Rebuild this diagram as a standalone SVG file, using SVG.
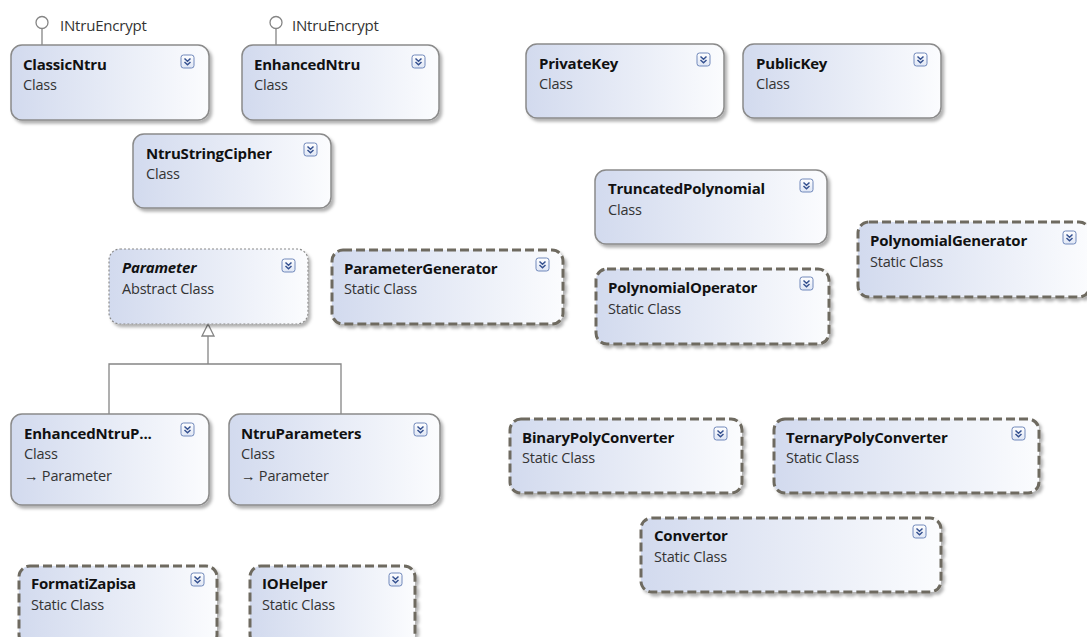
<svg xmlns="http://www.w3.org/2000/svg" width="1087" height="637" viewBox="0 0 1087 637">
<style>
.box{fill:url(#bg);stroke:#8a8a8a;stroke-width:1.5;filter:url(#sh)}
.st{fill:url(#bg);stroke:#6e6a60;stroke-width:3;stroke-dasharray:9 4;filter:url(#sh)}
.ab{fill:url(#bg);stroke:#8a8a8a;stroke-width:1.2;stroke-dasharray:2 2;filter:url(#sh)}
.t{font-family:"Open Sans","Liberation Sans",sans-serif;font-size:15px;font-weight:bold;fill:#111;letter-spacing:-0.2px}
.ti{font-style:italic}
.s{font-family:"Open Sans","Liberation Sans",sans-serif;font-size:14.5px;fill:#333;letter-spacing:-0.2px}
.ifc{font-family:"Open Sans","Liberation Sans",sans-serif;font-size:15px;fill:#333;letter-spacing:-0.2px}
.ic{fill:url(#ig);stroke:#7088bb;stroke-width:1}
.chev{fill:none;stroke:#34508f;stroke-width:1.5}
.ln{fill:none;stroke:#858585;stroke-width:1.3}
</style>
<defs>
<linearGradient id="bg" x1="0" y1="0" x2="1" y2="0">
<stop offset="0" stop-color="#d2daee"/>
<stop offset="1" stop-color="#fbfcfe"/>
</linearGradient>
<linearGradient id="ig" x1="0" y1="0" x2="0" y2="1">
<stop offset="0" stop-color="#ffffff"/>
<stop offset="1" stop-color="#dfe6f5"/>
</linearGradient>
<filter id="sh" x="-5%" y="-5%" width="115%" height="125%">
<feDropShadow dx="2.5" dy="3" stdDeviation="1.5" flood-color="#000" flood-opacity="0.3"/>
</filter>
<g id="exp">
<rect class="ic" x="0" y="0" width="13" height="13" rx="2.5"/>
<path class="chev" d="M3.5,3.5 L6.5,6.2 L9.5,3.5 M3.5,7 L6.5,9.7 L9.5,7"/>
</g>
</defs>
<rect width="1087" height="637" fill="#ffffff"/>

<g id="connectors">
<path class="ln" d="M42,29 V45"/>
<circle cx="42" cy="22.5" r="6" fill="#fff" stroke="#858585" stroke-width="1.3"/>
<text class="ifc" x="60" y="31">INtruEncrypt</text>
<path class="ln" d="M276,29 V45"/>
<circle cx="276" cy="22.5" r="6" fill="#fff" stroke="#858585" stroke-width="1.3"/>
<text class="ifc" x="292" y="31">INtruEncrypt</text>
<path class="ln" d="M208,336 V364 M109,414 V364 H341 V414"/>
<path d="M208,324 L202,336 L214,336 Z" fill="#fff" stroke="#858585" stroke-width="1.3"/>
</g>

<g id="ClassicNtru">
<rect class="box" x="11" y="45" width="198" height="75" rx="11"/>
<text class="t" x="23" y="70">ClassicNtru</text>
<text class="s" x="23" y="90">Class</text>
<use href="#exp" x="181" y="55"/>
</g>
<g id="EnhancedNtru">
<rect class="box" x="242" y="45" width="197" height="75" rx="11"/>
<text class="t" x="254" y="70">EnhancedNtru</text>
<text class="s" x="254" y="90">Class</text>
<use href="#exp" x="412" y="55"/>
</g>
<g id="PrivateKey">
<rect class="box" x="526" y="44" width="198" height="74" rx="11"/>
<text class="t" x="539" y="69">PrivateKey</text>
<text class="s" x="539" y="89">Class</text>
<use href="#exp" x="697" y="53"/>
</g>
<g id="PublicKey">
<rect class="box" x="743" y="44" width="198" height="74" rx="11"/>
<text class="t" x="756" y="69">PublicKey</text>
<text class="s" x="756" y="89">Class</text>
<use href="#exp" x="914" y="53"/>
</g>
<g id="NtruStringCipher">
<rect class="box" x="133" y="134" width="198" height="74" rx="11"/>
<text class="t" x="146" y="159">NtruStringCipher</text>
<text class="s" x="146" y="179">Class</text>
<use href="#exp" x="304" y="143"/>
</g>
<g id="TruncatedPolynomial">
<rect class="box" x="595" y="170" width="232" height="74" rx="11"/>
<text class="t" x="608" y="194">TruncatedPolynomial</text>
<text class="s" x="608" y="215">Class</text>
<use href="#exp" x="800" y="179"/>
</g>
<g id="PolynomialGenerator">
<rect class="st" x="858" y="222" width="232" height="75" rx="11"/>
<text class="t" x="870" y="246">PolynomialGenerator</text>
<text class="s" x="870" y="267">Static Class</text>
<use href="#exp" x="1063" y="231"/>
</g>
<g id="Parameter">
<rect class="ab" x="109" y="249" width="199" height="75" rx="11"/>
<text class="t ti" x="122" y="273">Parameter</text>
<text class="s" x="122" y="294">Abstract Class</text>
<use href="#exp" x="282" y="259"/>
</g>
<g id="ParameterGenerator">
<rect class="st" x="332" y="250" width="231" height="74" rx="11"/>
<text class="t" x="344" y="274">ParameterGenerator</text>
<text class="s" x="344" y="294">Static Class</text>
<use href="#exp" x="536" y="258"/>
</g>
<g id="PolynomialOperator">
<rect class="st" x="596" y="269" width="233" height="75" rx="11"/>
<text class="t" x="608" y="293">PolynomialOperator</text>
<text class="s" x="608" y="314">Static Class</text>
<use href="#exp" x="800" y="277"/>
</g>
<g id="EnhancedNtruParameters">
<rect class="box" x="11" y="414" width="198" height="91" rx="11"/>
<text class="t" x="24" y="439">EnhancedNtruP...</text>
<text class="s" x="24" y="459">Class</text>
<text class="s" x="24" y="481">→ Parameter</text>
<use href="#exp" x="181" y="423"/>
</g>
<g id="NtruParameters">
<rect class="box" x="229" y="414" width="211" height="91" rx="11"/>
<text class="t" x="241" y="439">NtruParameters</text>
<text class="s" x="241" y="459">Class</text>
<text class="s" x="241" y="481">→ Parameter</text>
<use href="#exp" x="414" y="423"/>
</g>
<g id="BinaryPolyConverter">
<rect class="st" x="510" y="419" width="232" height="74" rx="11"/>
<text class="t" x="522" y="443">BinaryPolyConverter</text>
<text class="s" x="522" y="463">Static Class</text>
<use href="#exp" x="714" y="427"/>
</g>
<g id="TernaryPolyConverter">
<rect class="st" x="774" y="419" width="265" height="74" rx="11"/>
<text class="t" x="786" y="443">TernaryPolyConverter</text>
<text class="s" x="786" y="463">Static Class</text>
<use href="#exp" x="1012" y="427"/>
</g>
<g id="Convertor">
<rect class="st" x="641" y="518" width="300" height="74" rx="11"/>
<text class="t" x="654" y="541">Convertor</text>
<text class="s" x="654" y="562">Static Class</text>
<use href="#exp" x="913" y="525"/>
</g>
<g id="FormatiZapisa">
<rect class="st" x="19" y="566" width="198" height="80" rx="11"/>
<text class="t" x="31" y="589">FormatiZapisa</text>
<text class="s" x="31" y="610">Static Class</text>
<use href="#exp" x="191" y="573"/>
</g>
<g id="IOHelper">
<rect class="st" x="250" y="566" width="165" height="80" rx="11"/>
<text class="t" x="262" y="589">IOHelper</text>
<text class="s" x="262" y="610">Static Class</text>
<use href="#exp" x="389" y="573"/>
</g>
</svg>
